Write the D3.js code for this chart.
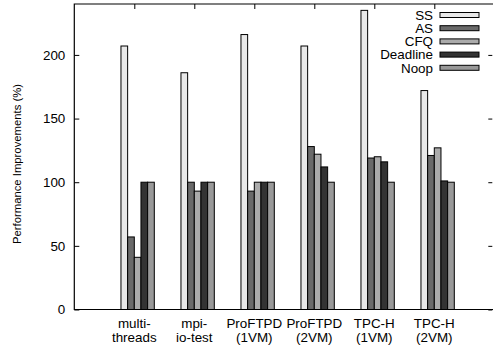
<!DOCTYPE html>
<html>
<head>
<script src="https://d3js.org/d3.v7.min.js"></script>
<style>
  body { margin: 0; background: #fff; }
  text { font-family: "Liberation Sans", Arial, sans-serif; }
</style>
</head>
<body>
<script>
    var width = 493, height = 345;

    // data
    var categories = [["multi-", "threads"], ["mpi-", "io-test"], ["ProFTPD", "(1VM)"],
                      ["ProFTPD", "(2VM)"], ["TPC-H", "(1VM)"], ["TPC-H", "(2VM)"]];
    var seriesNames = ["SS", "AS", "CFQ", "Deadline", "Noop"];
    var ss       = [207, 186, 216, 207, 235, 172];
    var as       = [57, 100, 93, 128, 119, 121];
    var cfq      = [41, 93, 100, 122, 120, 127];
    var deadline = [100, 100, 100, 112, 116, 101];
    var noop     = [100, 100, 100, 100, 100, 100];
    var yTicks   = [0, 50, 100, 150, 200];

    var series = [ss, as, cfq, deadline, noop];
    var colors = ["#e8e8e8", "#6a6a6a", "#ababab", "#333333", "#999999"];

    var pLeft = 74.3, pRight = 494.3, pTop = 4, pBottom = 309.5;

    var svg = d3.select("body").append("svg")
        .attr("width", width)
        .attr("height", height);

    var x = d3.scaleLinear().domain([-1, 6]).range([pLeft, pRight]);
    var y = d3.scaleLinear().domain([0, 240]).range([pBottom, pTop]);

    // gnuplot style clusters: 5 bars + gap of 4 per unit
    var slot = (x(1) - x(0)) / 9;

    var bars = svg.append("g");
    series.forEach(function(vals, j) {
        bars.selectAll(null).data(vals).enter().append("rect")
            .attr("x", function(d, i) { return x(i) + (j - 2) * slot; })
            .attr("y", function(d) { return y(d); })
            .attr("width", slot)
            .attr("height", function(d) { return y(0) - y(d); })
            .attr("fill", colors[j])
            .attr("stroke", "#000")
            .attr("stroke-width", 1);
    });

    // left axis with mirrored ticks on the right
    var yAxis = d3.axisLeft(y).tickValues(yTicks).tickSize(-5).tickPadding(9);
    var gy = svg.append("g").attr("transform", "translate(" + pLeft + ",0)").call(yAxis);
    gy.select(".domain").remove();
    gy.selectAll("text").attr("font-size", 13.4).attr("fill", "#000")
        .attr("font-family", "Liberation Sans, Arial, sans-serif");
    gy.selectAll("line").attr("stroke", "#000");

    var gyr = svg.append("g").attr("transform", "translate(" + (pRight - 2) + ",0)")
        .call(d3.axisRight(y).tickValues(yTicks).tickSize(-4).tickFormat(""));
    gyr.select(".domain").remove();
    gyr.selectAll("line").attr("stroke", "#000");

    // top mirrored ticks
    var gxt = svg.append("g").attr("transform", "translate(0," + pTop + ")")
        .call(d3.axisTop(x).tickValues(d3.range(6)).tickSize(-5).tickFormat(""));
    gxt.select(".domain").remove();
    gxt.selectAll("line").attr("stroke", "#000");

    // frame
    svg.append("path")
        .attr("d", "M" + pRight + "," + pTop + "H" + pLeft + "V" + pBottom + "H" + pRight)
        .attr("fill", "none").attr("stroke", "#000").attr("stroke-width", 1.2);

    // category labels
    var labels = svg.append("g").selectAll("text").data(categories).enter().append("text")
        .attr("x", function(d, i) { return x(i); })
        .attr("y", 328)
        .attr("text-anchor", "middle")
        .attr("font-size", 13.4);
    labels.append("tspan").attr("x", function(d, i) { return x(i); })
        .text(function(d) { return d[0]; });
    labels.append("tspan").attr("x", function(d, i) { return x(i); }).attr("dy", 13.5)
        .text(function(d) { return d[1]; });

    // y label
    svg.append("text")
        .attr("transform", "translate(21,164) rotate(-90)")
        .attr("text-anchor", "middle")
        .attr("font-size", 11.3)
        .text("Performance Improvements (%)");

    // legend
    var legend = svg.append("g").selectAll("g").data(seriesNames).enter().append("g")
        .attr("transform", function(d, i) { return "translate(0," + (15 + i * 13.2) + ")"; });
    legend.append("text")
        .attr("x", 433).attr("y", 4.7)
        .attr("text-anchor", "end")
        .attr("font-size", 13.4)
        .text(function(d) { return d; });
    legend.append("rect")
        .attr("x", 440).attr("y", -2.5)
        .attr("width", 39).attr("height", 5)
        .attr("fill", function(d, i) { return colors[i]; })
        .attr("stroke", "#000");
</script>
</body>
</html>
